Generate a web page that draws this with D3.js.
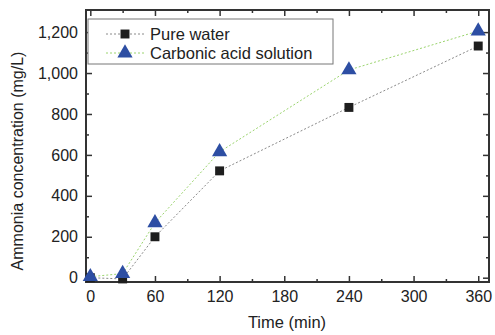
<!DOCTYPE html>
<html>
<head>
<meta charset="utf-8">
<script src="https://cdn.jsdelivr.net/npm/d3@7"></script>
<style>
  body { margin: 0; background: #fff; }
  text { font-family: "Liberation Sans", Arial, sans-serif; fill: #222; }
</style>
</head>
<body>
<div id="chart"></div>
<script>
// data
var times = [0, 30, 60, 120, 240, 360];
var pureWater = [0, -6, 200, 522, 832, 1132];
var carbonic = [5, 20, 268, 615, 1015, 1205];
var xTicks = [0, 60, 120, 180, 240, 300, 360];
var yTicks = [0, 200, 400, 600, 800, 1000, 1200];
var seriesNames = ["Pure water", "Carbonic acid solution"];

const width = 495, height = 335;
const margin = { top: 10, right: 6, bottom: 53, left: 86 };

const svg = d3.select("#chart").append("svg")
  .attr("width", width).attr("height", height);

const x = d3.scaleLinear().domain([-4, 370]).range([margin.left, width - margin.right]);
const y = d3.scaleLinear().domain([-21, 1308]).range([height - margin.bottom, margin.top]);

const axisCol = "#333";

// axes with inward ticks
function styleAxis(g) {
  g.select(".domain").remove();
  g.selectAll("line").attr("stroke", axisCol).attr("stroke-width", 1.5);
  g.selectAll("text").attr("font-size", "16px").attr("fill", "#222");
}
var xMinor = d3.range(30, 361, 60);
var yMinor = d3.range(100, 1201, 200);

svg.append("g").attr("transform", `translate(0,${y.range()[0]})`)
  .call(d3.axisBottom(x).tickValues(xTicks).tickSizeInner(-6).tickSizeOuter(0).tickPadding(9))
  .call(styleAxis);
svg.append("g").attr("transform", `translate(0,${y.range()[0]})`)
  .call(d3.axisBottom(x).tickValues(xMinor).tickSizeInner(-3).tickSizeOuter(0).tickFormat(""))
  .call(styleAxis);
svg.append("g").attr("transform", `translate(0,${y.range()[1]})`)
  .call(d3.axisTop(x).tickValues(xTicks).tickSizeInner(-6).tickSizeOuter(0).tickFormat(""))
  .call(styleAxis);
svg.append("g").attr("transform", `translate(0,${y.range()[1]})`)
  .call(d3.axisTop(x).tickValues(xMinor).tickSizeInner(-3).tickSizeOuter(0).tickFormat(""))
  .call(styleAxis);

svg.append("g").attr("transform", `translate(${x.range()[0]},0)`)
  .call(d3.axisLeft(y).tickValues(yTicks).tickSizeInner(-6).tickSizeOuter(0).tickPadding(8).tickFormat(d3.format(",")))
  .call(styleAxis);
svg.append("g").attr("transform", `translate(${x.range()[0]},0)`)
  .call(d3.axisLeft(y).tickValues(yMinor).tickSizeInner(-3).tickSizeOuter(0).tickFormat(""))
  .call(styleAxis);
svg.append("g").attr("transform", `translate(${x.range()[1]},0)`)
  .call(d3.axisRight(y).tickValues(yTicks).tickSizeInner(-6).tickSizeOuter(0).tickFormat(""))
  .call(styleAxis);
svg.append("g").attr("transform", `translate(${x.range()[1]},0)`)
  .call(d3.axisRight(y).tickValues(yMinor).tickSizeInner(-3).tickSizeOuter(0).tickFormat(""))
  .call(styleAxis);

// frame
svg.append("rect")
  .attr("x", x.range()[0]).attr("y", y.range()[1])
  .attr("width", x.range()[1] - x.range()[0])
  .attr("height", y.range()[0] - y.range()[1])
  .attr("fill", "none").attr("stroke", axisCol).attr("stroke-width", 2);

// axis titles
svg.append("text")
  .attr("x", 287).attr("y", 328)
  .attr("text-anchor", "middle").attr("font-size", "16.5px")
  .text("Time (min)");
svg.append("text")
  .attr("transform", `translate(23,161) rotate(-90)`)
  .attr("text-anchor", "middle").attr("font-size", "16px")
  .text("Ammonia concentration (mg/L)");

// series
var series = [
  { name: seriesNames[0], vals: pureWater, line: "#8a8a8a", fill: "#1e1e1e", sym: d3.symbolSquare, size: 80 },
  { name: seriesNames[1], vals: carbonic, line: "#9bd46e", fill: "#2d4ea3", sym: d3.symbolTriangle, size: 100 }
];

const line = d3.line().x(d => x(d[0])).y(d => y(d[1]));

series.forEach(function(s) {
  var pts = times.map((t, i) => [t, s.vals[i]]);
  svg.append("path").datum(pts)
    .attr("d", line).attr("fill", "none")
    .attr("stroke", s.line).attr("stroke-width", 1)
    .attr("stroke-dasharray", "2,2");
});
series.forEach(function(s) {
  var pts = times.map((t, i) => [t, s.vals[i]]);
  svg.append("g").selectAll("path").data(pts).join("path")
    .attr("transform", d => `translate(${x(d[0])},${y(d[1])})`)
    .attr("d", d3.symbol().type(s.sym).size(s.size))
    .attr("fill", s.fill);
});

// legend
const lg = svg.append("g");
lg.append("rect").attr("x", 88).attr("y", 19).attr("width", 245).attr("height", 45)
  .attr("fill", "#fff").attr("stroke", "#777").attr("stroke-width", 1);
series.forEach(function(s, i) {
  var ly = 34 + i * 19;
  lg.append("line").attr("x1", 106).attr("x2", 145).attr("y1", ly).attr("y2", ly)
    .attr("stroke", s.line).attr("stroke-width", 1).attr("stroke-dasharray", "2,2");
  lg.append("path").attr("transform", `translate(125,${ly})`)
    .attr("d", d3.symbol().type(s.sym).size(s.size)).attr("fill", s.fill);
  lg.append("text").attr("x", 150).attr("y", ly + 6).attr("font-size", "16.5px").text(s.name);
});
</script>
</body>
</html>
